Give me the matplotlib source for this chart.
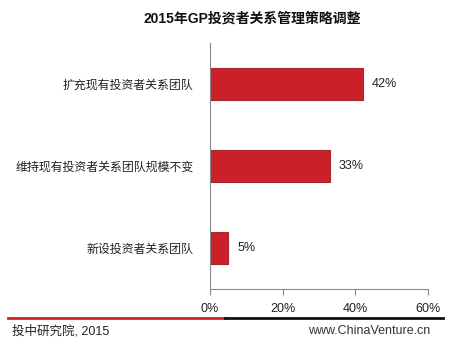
import matplotlib
matplotlib.use('Agg')
import matplotlib.pyplot as plt
from matplotlib.lines import Line2D

# Latin glyphs from Liberation Sans (Arial-like), CJK falls back to Noto
plt.rcParams['font.family'] = ['Liberation Sans', 'Noto Sans CJK SC', 'DejaVu Sans']

# data
categories = ['扩充现有投资者关系团队', '维持现有投资者关系团队规模不变', '新设投资者关系团队']
values = [42, 33, 5]
xticks = [0, 20, 40, 60]
title = '2015年GP投资者关系管理策略调整'
source = '投中研究院, 2015'
site = 'www.ChinaVenture.cn'

bar_color = '#CB2029'
text_color = '#222222'

fig = plt.figure(figsize=(4.56, 3.42), dpi=100)
ax = fig.add_axes([0.4605, 0.155, 0.478, 0.719])

ypos = list(range(len(categories)))
ax.barh(ypos, values, height=0.4, color=bar_color, edgecolor='#A8262B', linewidth=0.8)
for y, v in zip(ypos, values):
    ax.text(v + 2.5, y, '%d%%' % v, va='center', ha='left', fontsize=9, color=text_color)

ax.set_ylim(len(categories) - 0.5, -0.5)
ax.set_xlim(0, 60)
ax.set_yticks(ypos)
ax.set_yticklabels(categories, fontsize=8.6, color=text_color)
ax.tick_params(axis='y', length=0, pad=12)
ax.set_xticks(xticks)
ax.set_xticklabels(['%d%%' % t for t in xticks], fontsize=9, color=text_color)
ax.tick_params(axis='x', length=4, width=0.8, colors='#888888', labelcolor=text_color, pad=6)

for s in ['top', 'right']:
    ax.spines[s].set_visible(False)
ax.spines['left'].set_color('#888888')
ax.spines['bottom'].set_color('#888888')
ax.spines['left'].set_linewidth(0.8)
ax.spines['bottom'].set_linewidth(0.8)

fig.text(0.553, 0.947, title, ha='center', va='center', fontsize=10, fontweight='bold', color='#111111')

# footer line
yl = 1 - 318 / 342
fig.add_artist(Line2D([8 / 456, 225 / 456], [yl, yl], color='#D0202A', linewidth=2))
fig.add_artist(Line2D([225 / 456, 443 / 456], [yl, yl], color='#111111', linewidth=2))
fig.text(12 / 456, 1 - 331 / 342, source, ha='left', va='center', fontsize=9, color=text_color)
fig.text(430 / 456, 1 - 331 / 342, site, ha='right', va='center', fontsize=9, color='#333333')

fig.savefig('out.png', dpi=100)
